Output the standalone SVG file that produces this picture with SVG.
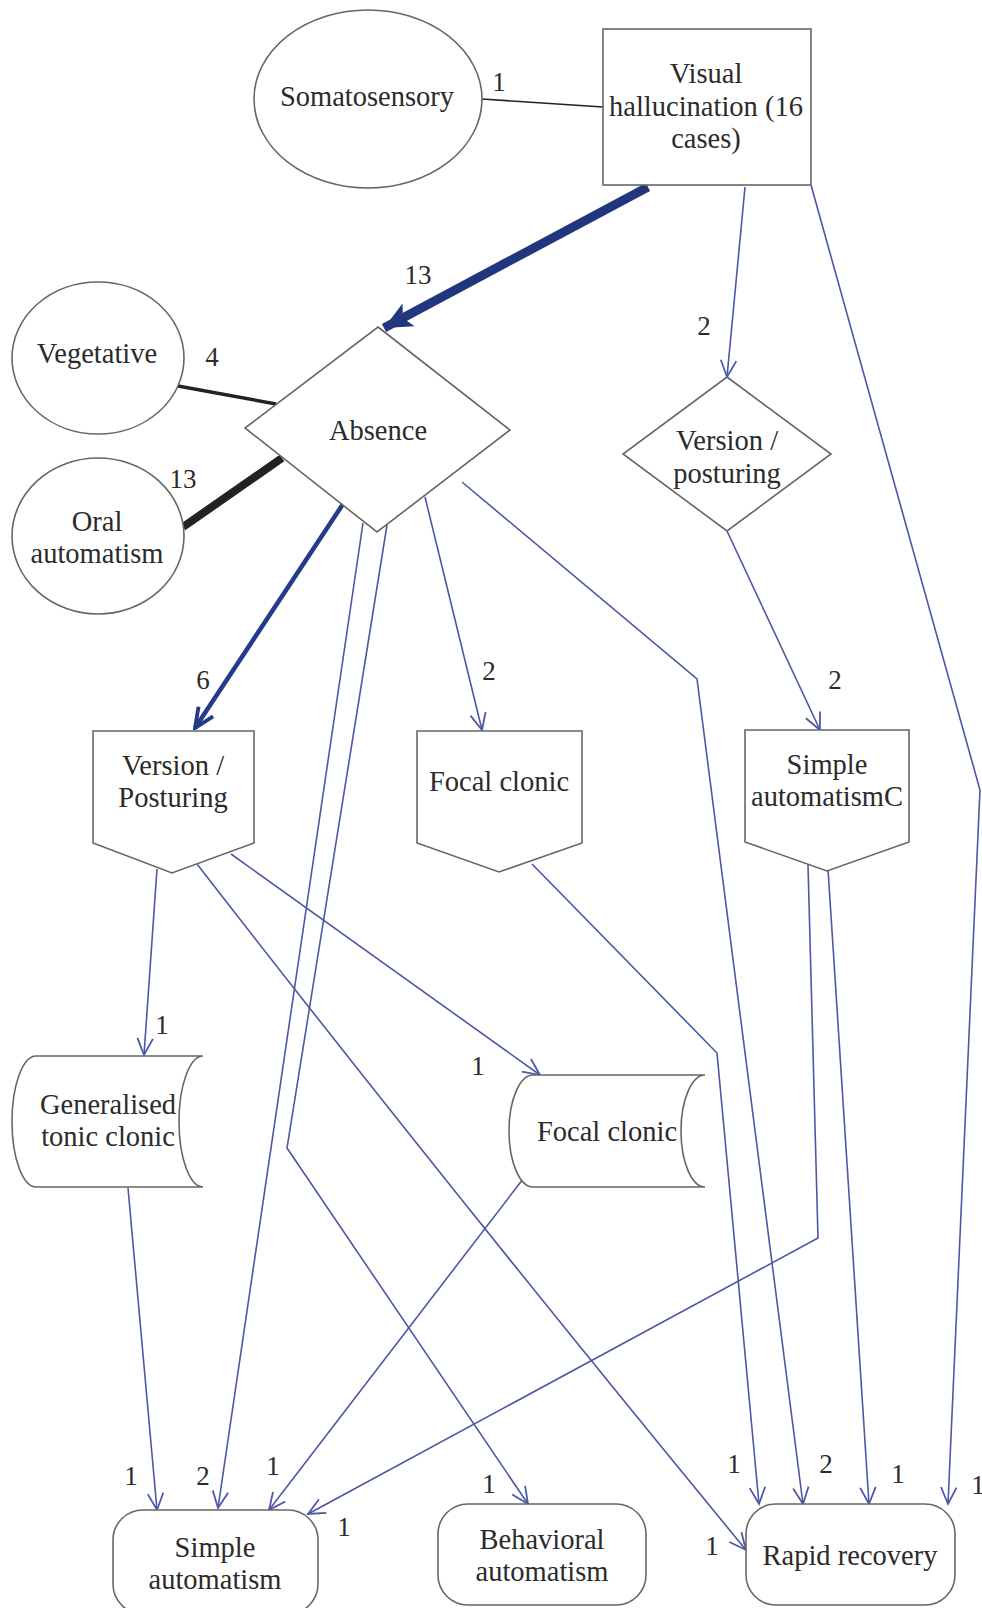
<svg xmlns="http://www.w3.org/2000/svg" width="982" height="1608" viewBox="0 0 982 1608">
  <style>
    .node { fill: #ffffff; stroke: #666666; stroke-width: 1.6; }
    .lbl { font-family: "Liberation Serif", "Times New Roman", serif; font-size: 28.5px; fill: #2b2b2b; text-anchor: middle; }
    .num { font-family: "Liberation Serif", "Times New Roman", serif; font-size: 27px; fill: #2b2b2b; text-anchor: middle; }
    .edge { fill: none; stroke: #4a58a6; stroke-width: 1.6; }
    .edge-bold { fill: none; stroke: #243a8a; stroke-width: 4.5; }
    .edge-heavy { fill: none; stroke: #22367f; stroke-width: 9; }
    .link { fill: none; stroke: #222222; }
  </style>
  <defs>
    <marker id="arr" markerUnits="userSpaceOnUse" markerWidth="20" markerHeight="18" refX="16" refY="8" orient="auto" viewBox="0 0 18 16">
      <path d="M1,1 L16,8 L1,15" fill="none" stroke="#4a58a6" stroke-width="1.6"/>
    </marker>
    <marker id="arrBold" markerUnits="userSpaceOnUse" markerWidth="24" markerHeight="22" refX="20" refY="10" orient="auto" viewBox="0 0 22 20">
      <path d="M2,2 L20,10 L2,18" fill="none" stroke="#243a8a" stroke-width="3.5"/>
    </marker>
    <marker id="arrHeavy" markerUnits="userSpaceOnUse" markerWidth="30" markerHeight="30" refX="26" refY="13" orient="auto" viewBox="0 0 28 26">
      <path d="M0,1 L26,13 L0,25 L6,13 Z" fill="#22367f"/>
    </marker>
  </defs>

  <rect x="0" y="0" width="982" height="1608" fill="#ffffff"/>

  <!-- connectors -->
  <g id="connectors">
    <!-- undirected links -->
    <line class="link" stroke="#555555" stroke-width="1.6" x1="482" y1="99" x2="603" y2="107"/>
    <line class="link" stroke-width="3.5" x1="178" y1="386" x2="276" y2="404"/>
    <line class="link" stroke-width="8" x1="183" y1="527" x2="282" y2="458"/>

    <!-- Visual hallucination outgoing -->
    <line class="edge-heavy" x1="648" y1="187" x2="384" y2="328" marker-end="url(#arrHeavy)"/>
    <line class="edge" x1="745" y1="187" x2="727" y2="377" marker-end="url(#arr)"/>
    <polyline class="edge" points="811,185 980,790 948,1504" marker-end="url(#arr)"/>

    <!-- Absence outgoing -->
    <line class="edge-bold" x1="343" y1="504" x2="195" y2="728" marker-end="url(#arrBold)"/>
    <line class="edge" x1="363" y1="523" x2="218" y2="1508" marker-end="url(#arr)"/>
    <polyline class="edge" points="387,525 287,1148 528,1504" marker-end="url(#arr)"/>
    <line class="edge" x1="425" y1="497" x2="482" y2="730" marker-end="url(#arr)"/>
    <polyline class="edge" points="462,482 697,679 803,1504" marker-end="url(#arr)"/>

    <!-- Version / posturing (diamond) outgoing -->
    <line class="edge" x1="727" y1="531" x2="820" y2="730" marker-end="url(#arr)"/>

    <!-- Version / Posturing (pentagon) outgoing -->
    <line class="edge" x1="157" y1="869" x2="144" y2="1055" marker-end="url(#arr)"/>
    <line class="edge" x1="231" y1="854" x2="540" y2="1075" marker-end="url(#arr)"/>
    <path class="edge" d="M197,864 Q450,1190 746,1550" marker-end="url(#arr)"/>

    <!-- Focal clonic (pentagon) outgoing -->
    <polyline class="edge" points="532,864 717,1053 759,1504" marker-end="url(#arr)"/>

    <!-- Simple automatismC outgoing -->
    <polyline class="edge" points="808,865 818,1238 308,1514" marker-end="url(#arr)"/>
    <line class="edge" x1="828" y1="869" x2="869" y2="1504" marker-end="url(#arr)"/>

    <!-- stored-data nodes outgoing -->
    <line class="edge" x1="128" y1="1188" x2="157" y2="1510" marker-end="url(#arr)"/>
    <line class="edge" x1="523" y1="1179" x2="269" y2="1510" marker-end="url(#arr)"/>

    <!-- counts -->
    <text class="num" x="499" y="91">1</text>
    <text class="num" x="418" y="284">13</text>
    <text class="num" x="212" y="366">4</text>
    <text class="num" x="183" y="488">13</text>
    <text class="num" x="704" y="335">2</text>
    <text class="num" x="203" y="689">6</text>
    <text class="num" x="489" y="680">2</text>
    <text class="num" x="835" y="689">2</text>
    <text class="num" x="162" y="1034">1</text>
    <text class="num" x="478" y="1075">1</text>
    <text class="num" x="131" y="1485">1</text>
    <text class="num" x="203" y="1485">2</text>
    <text class="num" x="273" y="1475">1</text>
    <text class="num" x="344" y="1536">1</text>
    <text class="num" x="489" y="1493">1</text>
    <text class="num" x="712" y="1555">1</text>
    <text class="num" x="734" y="1473">1</text>
    <text class="num" x="826" y="1473">2</text>
    <text class="num" x="898" y="1483">1</text>
    <text class="num" x="978" y="1494">1</text>
  </g>

  <!-- nodes -->
  <g id="somatosensory">
    <ellipse class="node" cx="368" cy="99" rx="114" ry="89"/>
    <text class="lbl" x="367" y="106">Somatosensory</text>
  </g>

  <g id="visual-hallucination">
    <rect class="node" x="603" y="29" width="208" height="156"/>
    <text class="lbl" x="706" y="83">Visual</text>
    <text class="lbl" x="706" y="116">hallucination (16</text>
    <text class="lbl" x="706" y="148">cases)</text>
  </g>

  <g id="vegetative">
    <ellipse class="node" cx="98" cy="358" rx="86" ry="76"/>
    <text class="lbl" x="97" y="363">Vegetative</text>
  </g>

  <g id="absence">
    <polygon class="node" points="378,327 510,430 377,532 245,428"/>
    <text class="lbl" x="378" y="440">Absence</text>
  </g>

  <g id="oral-automatism">
    <ellipse class="node" cx="98" cy="536" rx="86" ry="78"/>
    <text class="lbl" x="97" y="531">Oral</text>
    <text class="lbl" x="97" y="563">automatism</text>
  </g>

  <g id="version-posturing-diamond">
    <polygon class="node" points="727,377 831,454 727,531 623,454"/>
    <text class="lbl" x="727" y="450">Version /</text>
    <text class="lbl" x="727" y="483">posturing</text>
  </g>

  <g id="version-posturing">
    <polygon class="node" points="93,731 254,731 254,843 172,873 93,843"/>
    <text class="lbl" x="173" y="775">Version /</text>
    <text class="lbl" x="173" y="807">Posturing</text>
  </g>

  <g id="focal-clonic-upper">
    <polygon class="node" points="417,731 582,731 582,843 499,872 417,843"/>
    <text class="lbl" x="499" y="791">Focal clonic</text>
  </g>

  <g id="simple-automatism-c">
    <polygon class="node" points="745,730 909,730 909,842 827,871 745,842"/>
    <text class="lbl" x="827" y="774">Simple</text>
    <text class="lbl" x="827" y="806">automatismC</text>
  </g>

  <g id="generalised-tonic-clonic">
    <path class="node" d="M36,1056 H203 A24,65.5 0 0 0 203,1187 H36 A24,65.5 0 0 1 36,1056 Z"/>
    <text class="lbl" x="108" y="1114">Generalised</text>
    <text class="lbl" x="108" y="1146">tonic clonic</text>
  </g>

  <g id="focal-clonic-lower">
    <path class="node" d="M533,1075 H705 A24,56 0 0 0 705,1187 H533 A24,56 0 0 1 533,1075 Z"/>
    <text class="lbl" x="607" y="1141">Focal clonic</text>
  </g>

  <g id="simple-automatism">
    <rect class="node" x="113" y="1510" width="205" height="104" rx="30" ry="30"/>
    <text class="lbl" x="215" y="1557">Simple</text>
    <text class="lbl" x="215" y="1589">automatism</text>
  </g>

  <g id="behavioral-automatism">
    <rect class="node" x="438" y="1504" width="208" height="101" rx="30" ry="30"/>
    <text class="lbl" x="542" y="1549">Behavioral</text>
    <text class="lbl" x="542" y="1581">automatism</text>
  </g>

  <g id="rapid-recovery">
    <rect class="node" x="746" y="1504" width="209" height="101" rx="30" ry="30"/>
    <text class="lbl" x="850" y="1565">Rapid recovery</text>
  </g>
</svg>
